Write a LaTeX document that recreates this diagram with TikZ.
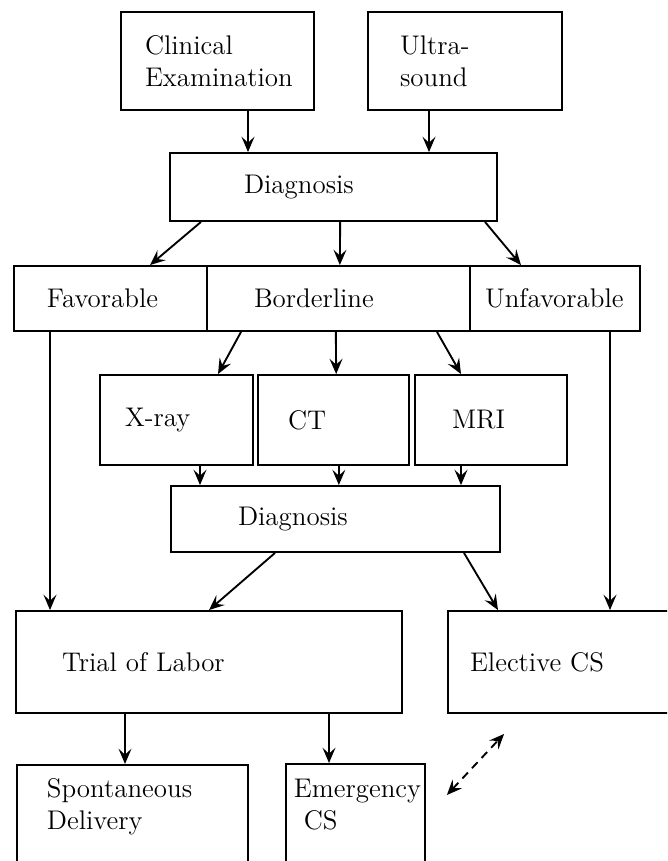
\documentclass[tikz,border=0pt]{standalone}
\usepackage{tikz}
\usetikzlibrary{arrows.meta}

\begin{document}
\begin{tikzpicture}[
    font=\fontsize{11.5}{13.5}\selectfont,
    line width=0.8pt,
    blk/.style n args={3}{draw, text width=#1, minimum height=#2,
                 inner xsep=0pt, align=left,
                 execute at begin node={\leftskip=#3\relax}},
    foot/.style={anchor=north west, inner ysep=0pt,
                 text height=#1, text depth=1.35cm},
    arr/.style={-{Stealth[length=6.5pt,width=5.5pt,inset=2.5pt]}},
    dasharr/.style={{Stealth[length=6.5pt,width=5.5pt,inset=2.5pt]}-{Stealth[length=6.5pt,width=5.5pt,inset=2.5pt]},
                 dash pattern=on 3.5pt off 2.5pt}
  ]
    \useasboundingbox (0,0) rectangle (10.005,-12.915);
    \clip (0,0) rectangle (10.005,-12.915);
    % examinations
    \node[blk={2.895cm}{1.47cm}{0.36cm}] (clin) at (3.2625,-0.915) {Clinical\\Examination};
    \node[blk={2.91cm}{1.47cm}{0.48cm}]  (us)   at (6.975,-0.915)  {Ultra-\\sound};
    \node[blk={4.905cm}{1.02cm}{1.11cm}] (dg1)  at (5.0025,-2.805) {Diagnosis};
    % outcome row
    \node[blk={2.895cm}{0.975cm}{0.495cm}] (fav)   at (1.6575,-4.4775) {Favorable};
    \node[blk={3.945cm}{0.975cm}{0.705cm}] (bord)  at (5.0775,-4.4775) {Borderline};
    \node[blk={2.55cm}{0.975cm}{0.225cm}]  (unfav) at (8.325,-4.4775)  {Unfavorable};
    % imaging
    \node[blk={2.295cm}{1.35cm}{0.375cm}] (xray) at (2.6475,-6.3) {X-ray};
    \node[blk={2.265cm}{1.35cm}{0.45cm}]  (ct)   at (5.0025,-6.3) {CT};
    \node[blk={2.28cm}{1.35cm}{0.555cm}]  (mri)  at (7.365,-6.3)  {MRI};
    \node[blk={4.935cm}{0.99cm}{1.005cm}] (dg2)  at (5.0325,-7.785) {Diagnosis};
    % delivery
    \node[blk={5.79cm}{1.53cm}{0.69cm}] (trial) at (3.135,-9.93) {Trial of Labor};
    \node[blk={3.48cm}{1.53cm}{0.33cm}] (elect) at (8.46,-9.93)  {Elective CS};
    \node[blk={3.465cm}{0cm}{0.45cm}, foot=0.495cm] (spont) at (0.24,-11.46)   {Spontaneous\\Delivery};
    \node[blk={2.085cm}{0cm}{0.12cm}, foot=0.51cm]  (emer)  at (4.275,-11.445) {Emergency\\\hspace*{0.15cm}CS};

    \draw[arr] ([xshift=0.4575cm]clin.south) -- ([xshift=-1.2825cm]dg1.north);
    \draw[arr] ([xshift=-0.54cm]us.south)    -- ([xshift=1.4325cm]dg1.north);
    \draw[arr] ([xshift=-1.9875cm]dg1.south) -- ([xshift=0.5925cm]fav.north);
    \draw[arr] ([xshift=0.1cm]dg1.south)     -- ([xshift=0.02cm]bord.north);
    \draw[arr] ([xshift=2.2725cm]dg1.south)  -- ([xshift=-0.51cm]unfav.north);
    \draw[arr] ([xshift=-1.4625cm]bord.south) -- ([xshift=0.6225cm]xray.north);
    \draw[arr] ([xshift=-0.04cm]bord.south)   -- ([xshift=0.04cm]ct.north);
    \draw[arr] ([xshift=1.4775cm]bord.south)  -- ([xshift=-0.45cm]mri.north);
    \draw[arr] ([xshift=0.3525cm]xray.south) -- ([xshift=-2.0325cm]dg2.north);
    \draw[arr] ([xshift=0.08cm]ct.south)     -- ([xshift=0.05cm]dg2.north);
    \draw[arr] ([xshift=-0.45cm]mri.south)   -- ([xshift=1.8825cm]dg2.north);
    \draw[arr] ([xshift=-0.9075cm]fav.south) -- ([xshift=-2.385cm]trial.north);
    \draw[arr] ([xshift=0.825cm]unfav.south) -- ([xshift=0.69cm]elect.north);
    \draw[arr] ([xshift=-0.9075cm]dg2.south) -- (trial.north);
    \draw[arr] ([xshift=1.9275cm]dg2.south)  -- ([xshift=-0.99cm]elect.north);
    \draw[arr] ([xshift=-1.26cm]trial.south) -- ([xshift=-1.26cm]trial.south |- spont.north);
    \draw[arr] ([xshift=1.8cm]trial.south)   -- ([xshift=1.8cm]trial.south |- emer.north);
    \draw[dasharr] ([xshift=0.315cm,yshift=-0.48cm]emer.north east)
      -- ([xshift=0.855cm,yshift=-0.3cm]elect.south west);
\end{tikzpicture}
\end{document}
